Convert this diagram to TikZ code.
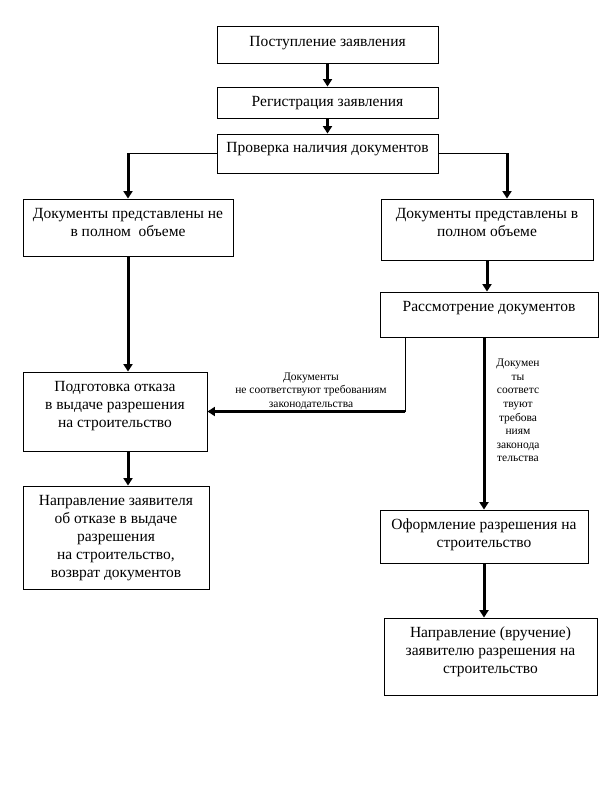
\documentclass[tikz,border=0pt]{standalone}
\usepackage{fontspec}
\setmainfont{Liberation Serif}
\usetikzlibrary{arrows.meta,calc}
\begin{document}
\begin{tikzpicture}[x=1pt,y=1pt,
  box/.style={draw,line width=0.9pt,rectangle,inner sep=0pt},
  txt/.style={align=center,inner sep=0pt,anchor=north,font=\fontsize{15.5}{18}\selectfont},
  small/.style={align=center,inner sep=0pt,font=\fontsize{11.5}{13.6}\selectfont},
  thin/.style={line width=0.9pt},
  arr/.style={line width=3pt,-{Triangle[width=9pt,length=7.5pt]}}]
\useasboundingbox (0,0) rectangle (599,-799);
% boxes
\node[box,minimum width=221pt,minimum height=37pt] (A) at (327.5,-44.5) {};
\node[txt] (At) at ([yshift=-11pt]A.north) {Поступление заявления};
\node[box,minimum width=221pt,minimum height=31pt] (B) at (327.5,-102.5) {};
\node[txt] (Bt) at ([yshift=-10pt]B.north) {Регистрация заявления};
\node[box,minimum width=221pt,minimum height=39pt] (C) at (327.5,-153.5) {};
\node[txt] (Ct) at ([yshift=-9pt]C.north) {Проверка наличия документов};
\node[box,minimum width=210pt,minimum height=57pt] (D) at (128,-227.5) {};
\node[txt] (Dt) at ([yshift=-9.5pt]D.north) {Документы представлены не\\в полном\ \ объеме};
\node[box,minimum width=212pt,minimum height=61pt] (E) at (487,-229.5) {};
\node[txt] (Et) at ([yshift=-9.5pt]E.north) {Документы представлены в\\полном объеме};
\node[box,minimum width=218pt,minimum height=45pt] (F) at (489,-314.5) {};
\node[txt] (Ft) at ([yshift=-9.5pt]F.north) {Рассмотрение документов};
\node[box,minimum width=184pt,minimum height=79pt] (G) at (115,-411.5) {};
\node[txt] (Gt) at ([yshift=-10pt]G.north) {Подготовка отказа\\в выдаче разрешения\\на строительство};
\node[box,minimum width=186pt,minimum height=103pt] (H) at (116,-537.5) {};
\node[txt] (Ht) at ([yshift=-9.5pt]H.north) {Направление заявителя\\об отказе в выдаче\\разрешения\\на строительство,\\возврат документов};
\node[box,minimum width=208pt,minimum height=53pt] (I) at (484,-536.5) {};
\node[txt] (It) at ([yshift=-8.5pt]I.north) {Оформление разрешения на\\строительство};
\node[box,minimum width=213pt,minimum height=77pt] (J) at (490.5,-656.5) {};
\node[txt] (Jt) at ([yshift=-9pt]J.north) {Направление (вручение)\\заявителю разрешения\ на\\строительство};
% labels
\node[small] (L1) at (311,-391) {Документы\\не соответствуют требованиям\\законодательства};
\node[small,anchor=north] (L2) at (518,-359) {Докумен\\ты\\соответс\\твуют\\требова\\ниям\\законода\\тельства};
% connectors
\draw[arr] (A.south) -- (B.north);
\draw[arr] (B.south) -- (C.north);
\coordinate (cL) at (D.north |- C.west);
\draw[thin] (C.west) -- (cL);
\draw[arr] ([yshift=0.45pt]cL) -- (D.north);
\coordinate (cR) at (507,-153.5);
\draw[thin] (C.east) -- (cR);
\draw[arr] ([yshift=0.45pt]cR) -- (cR |- E.north);
\draw[arr] (E.south) -- (E.south |- F.north);
\draw[arr] (D.south) -- (D.south |- G.north);
\coordinate (fL) at (405,-411.5);
\draw[thin] (fL |- F.south) -- (fL);
\draw[arr] ([xshift=0.45pt]fL) -- (G.east |- fL);
\draw[arr] (I.north |- F.south) -- (I.north);
\draw[arr] (D.south |- G.south) -- (D.south |- H.north);
\draw[arr] (I.south) -- (I.south |- J.north);
\end{tikzpicture}
\end{document}
